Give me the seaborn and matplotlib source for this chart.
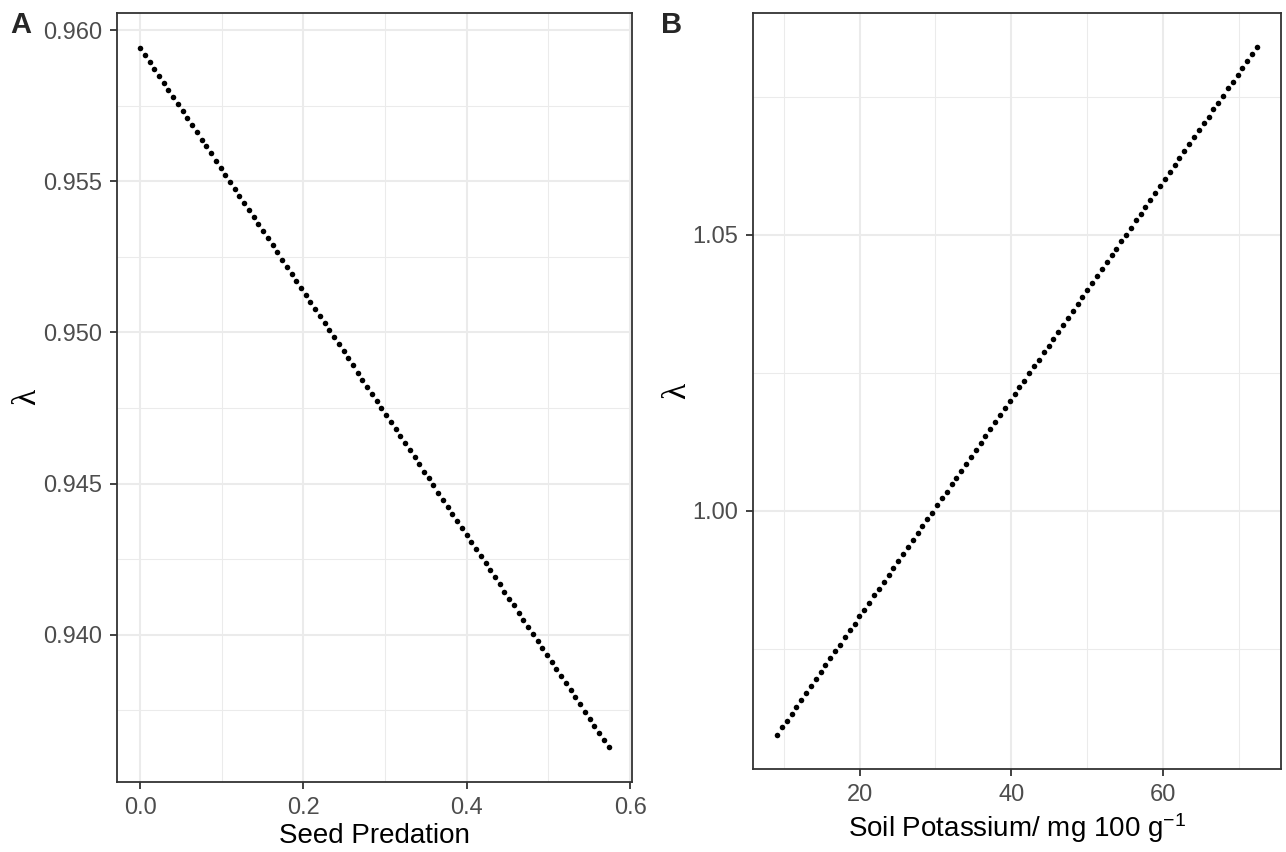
import matplotlib
matplotlib.use("Agg")
import matplotlib.pyplot as plt
from matplotlib.ticker import MultipleLocator, FormatStrFormatter
import pandas as pd
import seaborn as sns

# Panel A: lambda vs seed predation (100 predicted points)
predation = [0.0000, 0.0058, 0.0116, 0.0174, 0.0232, 0.0290, 0.0348, 0.0406, 0.0463, 0.0521,
             0.0579, 0.0637, 0.0695, 0.0753, 0.0811, 0.0869, 0.0927, 0.0985, 0.1043, 0.1101,
             0.1159, 0.1217, 0.1274, 0.1332, 0.1390, 0.1448, 0.1506, 0.1564, 0.1622, 0.1680,
             0.1738, 0.1796, 0.1854, 0.1912, 0.1970, 0.2028, 0.2085, 0.2143, 0.2201, 0.2259,
             0.2317, 0.2375, 0.2433, 0.2491, 0.2549, 0.2607, 0.2665, 0.2723, 0.2781, 0.2839,
             0.2897, 0.2954, 0.3012, 0.3070, 0.3128, 0.3186, 0.3244, 0.3302, 0.3360, 0.3418,
             0.3476, 0.3534, 0.3592, 0.3650, 0.3708, 0.3765, 0.3823, 0.3881, 0.3939, 0.3997,
             0.4055, 0.4113, 0.4171, 0.4229, 0.4287, 0.4345, 0.4403, 0.4461, 0.4519, 0.4576,
             0.4634, 0.4692, 0.4750, 0.4808, 0.4866, 0.4924, 0.4982, 0.5040, 0.5098, 0.5156,
             0.5214, 0.5272, 0.5330, 0.5387, 0.5445, 0.5503, 0.5561, 0.5619, 0.5677, 0.5735]
lambda_a = [0.95942, 0.95919, 0.95895, 0.95872, 0.95849, 0.95825, 0.95802, 0.95778, 0.95755, 0.95732,
            0.95708, 0.95685, 0.95662, 0.95638, 0.95615, 0.95592, 0.95568, 0.95545, 0.95522, 0.95498,
            0.95475, 0.95451, 0.95428, 0.95405, 0.95381, 0.95358, 0.95335, 0.95311, 0.95288, 0.95265,
            0.95241, 0.95218, 0.95194, 0.95171, 0.95148, 0.95124, 0.95101, 0.95078, 0.95054, 0.95031,
            0.95008, 0.94984, 0.94961, 0.94938, 0.94914, 0.94891, 0.94867, 0.94844, 0.94821, 0.94797,
            0.94774, 0.94751, 0.94727, 0.94704, 0.94681, 0.94657, 0.94634, 0.94611, 0.94587, 0.94564,
            0.94540, 0.94517, 0.94494, 0.94470, 0.94447, 0.94424, 0.94400, 0.94377, 0.94354, 0.94330,
            0.94307, 0.94283, 0.94260, 0.94237, 0.94213, 0.94190, 0.94167, 0.94143, 0.94120, 0.94097,
            0.94073, 0.94050, 0.94027, 0.94003, 0.93980, 0.93956, 0.93933, 0.93910, 0.93886, 0.93863,
            0.93840, 0.93816, 0.93793, 0.93770, 0.93746, 0.93723, 0.93699, 0.93676, 0.93653, 0.93629]

# Panel B: lambda vs soil potassium
potassium = [9.10, 9.74, 10.38, 11.02, 11.66, 12.30, 12.94, 13.58, 14.22, 14.85,
             15.49, 16.13, 16.77, 17.41, 18.05, 18.69, 19.33, 19.97, 20.61, 21.25,
             21.89, 22.53, 23.17, 23.81, 24.45, 25.08, 25.72, 26.36, 27.00, 27.64,
             28.28, 28.92, 29.56, 30.20, 30.84, 31.48, 32.12, 32.76, 33.40, 34.04,
             34.68, 35.32, 35.95, 36.59, 37.23, 37.87, 38.51, 39.15, 39.79, 40.43,
             41.07, 41.71, 42.35, 42.99, 43.63, 44.27, 44.91, 45.55, 46.18, 46.82,
             47.46, 48.10, 48.74, 49.38, 50.02, 50.66, 51.30, 51.94, 52.58, 53.22,
             53.86, 54.50, 55.14, 55.78, 56.41, 57.05, 57.69, 58.33, 58.97, 59.61,
             60.25, 60.89, 61.53, 62.17, 62.81, 63.45, 64.09, 64.73, 65.37, 66.01,
             66.65, 67.29, 67.92, 68.56, 69.20, 69.84, 70.48, 71.12, 71.76, 72.40]
lambda_b = [0.9595, 0.9608, 0.9620, 0.9633, 0.9645, 0.9658, 0.9670, 0.9683, 0.9696, 0.9708,
            0.9721, 0.9733, 0.9746, 0.9758, 0.9771, 0.9784, 0.9796, 0.9809, 0.9821, 0.9834,
            0.9847, 0.9859, 0.9872, 0.9884, 0.9897, 0.9909, 0.9922, 0.9935, 0.9947, 0.9960,
            0.9972, 0.9985, 0.9997, 1.0010, 1.0023, 1.0035, 1.0048, 1.0060, 1.0073, 1.0085,
            1.0098, 1.0111, 1.0123, 1.0136, 1.0148, 1.0161, 1.0173, 1.0186, 1.0199, 1.0211,
            1.0224, 1.0236, 1.0249, 1.0262, 1.0274, 1.0287, 1.0299, 1.0312, 1.0324, 1.0337,
            1.0350, 1.0362, 1.0375, 1.0387, 1.0400, 1.0412, 1.0425, 1.0438, 1.0450, 1.0463,
            1.0475, 1.0488, 1.0500, 1.0513, 1.0526, 1.0538, 1.0551, 1.0563, 1.0576, 1.0589,
            1.0601, 1.0614, 1.0626, 1.0639, 1.0651, 1.0664, 1.0677, 1.0689, 1.0702, 1.0714,
            1.0727, 1.0739, 1.0752, 1.0765, 1.0777, 1.0790, 1.0802, 1.0815, 1.0827, 1.0840]

df_a = pd.DataFrame({"predation": predation, "lam": lambda_a})
df_b = pd.DataFrame({"potassium": potassium, "lam": lambda_b})

sns.set_theme(style="whitegrid")
plt.rcParams["font.family"] = ["Liberation Sans", "DejaVu Sans"]
plt.rcParams["mathtext.fontset"] = "custom"
plt.rcParams["mathtext.rm"] = "Liberation Sans"
plt.rcParams["mathtext.it"] = "Liberation Sans:italic"
plt.rcParams["mathtext.bf"] = "Liberation Sans:bold"

fig = plt.figure(figsize=(12.86, 8.52), dpi=100)
ax_a = fig.add_axes([0.0907, 0.0822, 0.4007, 0.903])
ax_b = fig.add_axes([0.5855, 0.0974, 0.4106, 0.8877])

sns.scatterplot(data=df_a, x="predation", y="lam", ax=ax_a, color="black", s=16, linewidth=0)
sns.scatterplot(data=df_b, x="potassium", y="lam", ax=ax_b, color="black", s=16, linewidth=0)

def style_axis(ax):
    ax.grid(which="major", color="#EBEBEB", linewidth=1.5)
    ax.grid(which="minor", color="#EBEBEB", linewidth=0.75)
    ax.set_axisbelow(True)
    for sp in ax.spines.values():
        sp.set_color("#333333")
        sp.set_linewidth(1.3)
    ax.tick_params(which="major", length=5, width=1.3, color="#333333",
                   labelsize=17, labelcolor="#4D4D4D", pad=5.5, bottom=True, left=True)
    ax.tick_params(which="minor", length=0, bottom=True, left=True)

ax_a.xaxis.set_major_locator(MultipleLocator(0.2))
ax_a.xaxis.set_minor_locator(MultipleLocator(0.1))
ax_a.xaxis.set_major_formatter(FormatStrFormatter("%.1f"))
ax_a.yaxis.set_major_locator(MultipleLocator(0.005))
ax_a.yaxis.set_minor_locator(MultipleLocator(0.0025))
ax_a.yaxis.set_major_formatter(FormatStrFormatter("%.3f"))

ax_b.xaxis.set_major_locator(MultipleLocator(20))
ax_b.xaxis.set_minor_locator(MultipleLocator(10))
ax_b.yaxis.set_major_locator(MultipleLocator(0.05))
ax_b.yaxis.set_minor_locator(MultipleLocator(0.025))
ax_b.yaxis.set_major_formatter(FormatStrFormatter("%.2f"))

for ax in (ax_a, ax_b):
    style_axis(ax)

ax_a.set_xlabel("Seed Predation", fontsize=20, color="black", labelpad=3)
ax_b.set_xlabel(r"Soil Potassium/ mg 100 g$^{-1}$", fontsize=20, color="black", labelpad=4)
ax_a.set_ylabel("λ", fontsize=24, color="black", family="Liberation Serif")
ax_b.set_ylabel("λ", fontsize=24, color="black", family="Liberation Serif")
ax_a.yaxis.set_label_coords(-0.145, 0.5)
ax_b.yaxis.set_label_coords(-0.116, 0.5)

fig.text(0.0078, 0.9613, "A", fontsize=21, fontweight="bold", va="baseline")
fig.text(0.5138, 0.9613, "B", fontsize=21, fontweight="bold", va="baseline")

fig.savefig("out.png", dpi=100)
